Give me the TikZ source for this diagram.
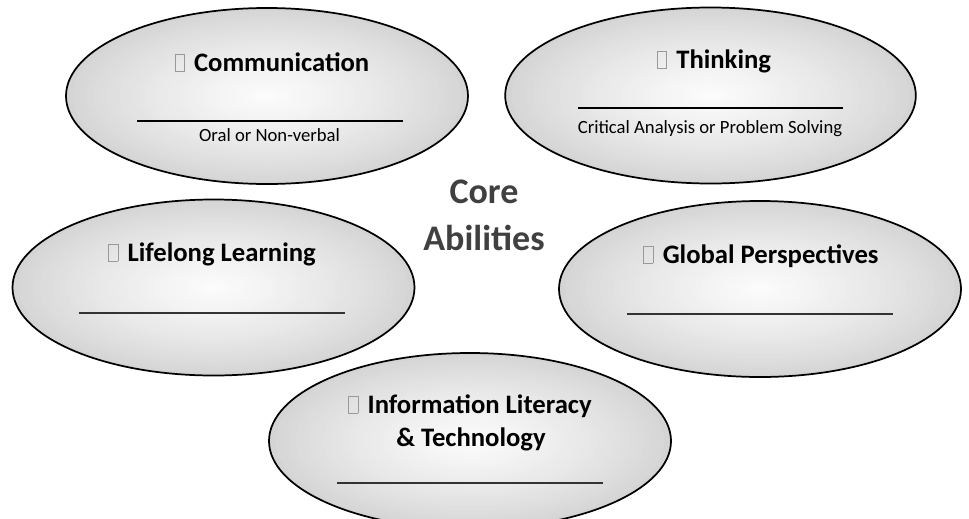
\documentclass[tikz,border=0pt]{standalone}
\usepackage{fontspec}
\setmainfont{Carlito}
\usetikzlibrary{shapes.geometric}
\usetikzlibrary{positioning}
\definecolor{haloin}{RGB}{252,252,252}
\definecolor{haloout}{RGB}{210,210,210}
\tikzstyle{every path}=[line cap=round,line join=round]
\tikzstyle{ability}=[ellipse, draw=black, line width=1.3pt, minimum width=301.5pt,
  minimum height=132pt, inner sep=0pt]
\tikzstyle{title}=[font=\fontsize{20}{24}\selectfont\bfseries, anchor=base, inner sep=0pt]
\tikzstyle{subtitle}=[font=\fontsize{14}{17}\selectfont, anchor=base, inner sep=0pt]
\tikzstyle{core}=[font=\fontsize{27}{32}\selectfont\bfseries, anchor=base, inner sep=0pt, text=black!75]
\tikzstyle{bar}=[line width=1.5pt, line cap=butt]
\tikzstyle{blank}=[line width=0.8pt, black!80, line cap=butt]
\newcommand{\tickbox}{{\color{gray!80}\setlength\fboxsep{0pt}\setlength\fboxrule{0.5pt}%
  \fbox{\rule{0pt}{12.5pt}\hspace{6.5pt}}}\hspace{7pt}}

\begin{document}
\begin{tikzpicture}[x=0.75pt,y=-0.75pt]
  \useasboundingbox (0,0) rectangle (969,518);

  % grey-to-white fill of the ellipses
  \foreach \cx/\cy/\rx in {267/96/201, 710.5/95.5/205.5, 213.5/287.5/201, 760/289/201, 470/441/201}
  {
    \foreach \k in {0,...,29}
    {
      \pgfmathtruncatemacro{\mix}{100*((\k+1)/30)^0.8}
      \pgfmathsetmacro{\shrink}{1-\k/30}
      \fill[haloin!\mix!haloout] (\cx,\cy) ellipse [x radius=\shrink*\rx, y radius=\shrink*88];
    }
  }

  % ellipses
  \node[ability] (comm) at (267,96) {};
  \node[ability, minimum width=308pt] (think) at (710.5,95.5) {};
  \node[ability] (life) at (213.5,287.5) {};
  \node[ability] (glob) at (760,289) {};
  \node[ability] (info) at (470,441) {};

  % Communication
  \node[title] (commT) at (272,71) {\tickbox Communication};
  \coordinate (commL) at (137,121);
  \coordinate (commR) at (403,121);
  \draw[bar] (commL) -- (commR);
  \node[subtitle] (commS) at (269.5,141) {Oral or Non-verbal};

  % Thinking
  \node[title] (thinkT) at (714,68) {\tickbox Thinking};
  \coordinate (thinkL) at (578,108);
  \coordinate (thinkR) at (843,108);
  \draw[bar] (thinkL) -- (thinkR);
  \node[subtitle] (thinkS) at (710,133) {Critical Analysis or Problem Solving};

  % Lifelong Learning
  \node[title] (lifeT) at (212,261) {\tickbox Lifelong Learning};
  \coordinate (lifeL) at (79,313);
  \coordinate (lifeR) at (345,313);
  \draw[blank] (lifeL) -- (lifeR);

  % Global Perspectives
  \node[title] (globT) at (761,263) {\tickbox Global Perspectives};
  \coordinate (globL) at (627,314);
  \coordinate (globR) at (893,314);
  \draw[blank] (globL) -- (globR);

  % Information Literacy
  \node[title] (infoA) at (470,413) {\tickbox Information Literacy};
  \node[title] (infoB) at (471,446) {\& Technology};
  \coordinate (infoL) at (337,483);
  \coordinate (infoR) at (603,483);
  \draw[blank] (infoL) -- (infoR);

  % centre
  \node[core] (coreA) at (484,203) {Core};
  \node[core] (coreB) at (484,250) {Abilities};
\end{tikzpicture}
\end{document}
